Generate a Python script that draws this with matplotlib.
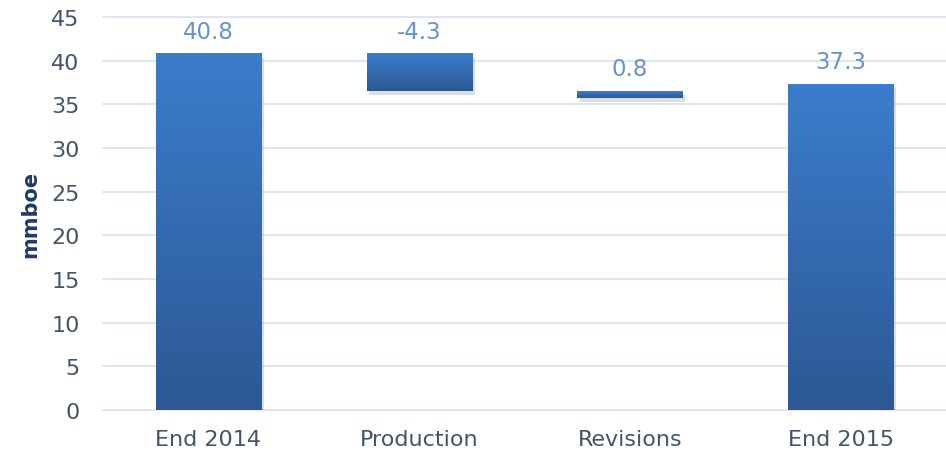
import matplotlib.pyplot as plt
import matplotlib.transforms as mtransforms
from matplotlib.colors import LinearSegmentedColormap
import numpy as np

categories = ['End 2014', 'Production', 'Revisions', 'End 2015']
labels = ['40.8', '-4.3', '0.8', '37.3']
bar_bottom = [0, 36.5, 35.7, 0]
bar_height = [40.8, 4.3, 0.8, 37.3]

grid_color = '#d8e2f1'
tick_color = '#44546a'
label_color = '#6a93c9'

fig = plt.figure(figsize=(9.46, 4.56), dpi=100)
ax = fig.add_axes([0.109, 0.0987, 0.891, 0.8618])

cmap = LinearSegmentedColormap.from_list('bar', ['#2c5894', '#3b7dcb'])
grad = np.linspace(0, 1, 256).reshape(-1, 1)
width = 0.5
x = np.arange(len(categories))

# soft shadow offset down/right
shadow = mtransforms.offset_copy(ax.transData, fig=fig, x=2, y=-3, units='points')
ax.bar(x, bar_height, width, bottom=bar_bottom, color='#9aa3b0', alpha=0.35,
       transform=shadow, zorder=2)

for xi, b, h, lab in zip(x, bar_bottom, bar_height, labels):
    ax.imshow(grad, cmap=cmap, origin='lower', aspect='auto',
              extent=[xi - width / 2, xi + width / 2, b, b + h], zorder=3)
    ax.annotate(lab, (xi, b + h), xytext=(0, 8), textcoords='offset points',
                ha='center', va='bottom', fontsize=16.5, color=label_color)

ax.set_xlim(-0.5, 3.5)
ax.set_ylim(0, 45)
ax.set_yticks(range(0, 46, 5))
ax.set_xticks(x)
ax.set_xticklabels(categories)
ax.tick_params(length=0, labelsize=16, colors=tick_color)
ax.tick_params(axis='x', pad=14)
ax.tick_params(axis='y', pad=17)
for s in ax.spines.values():
    s.set_visible(False)
ax.yaxis.grid(True, color=grid_color, linewidth=1.2, zorder=0)
for gl in ax.get_ygridlines():
    gl.set_clip_on(False)
ax.set_axisbelow(True)
ax.set_ylabel('mmboe', fontsize=15, fontweight='bold', color='#1f3a68', labelpad=8)

fig.savefig('out.png', dpi=100)
